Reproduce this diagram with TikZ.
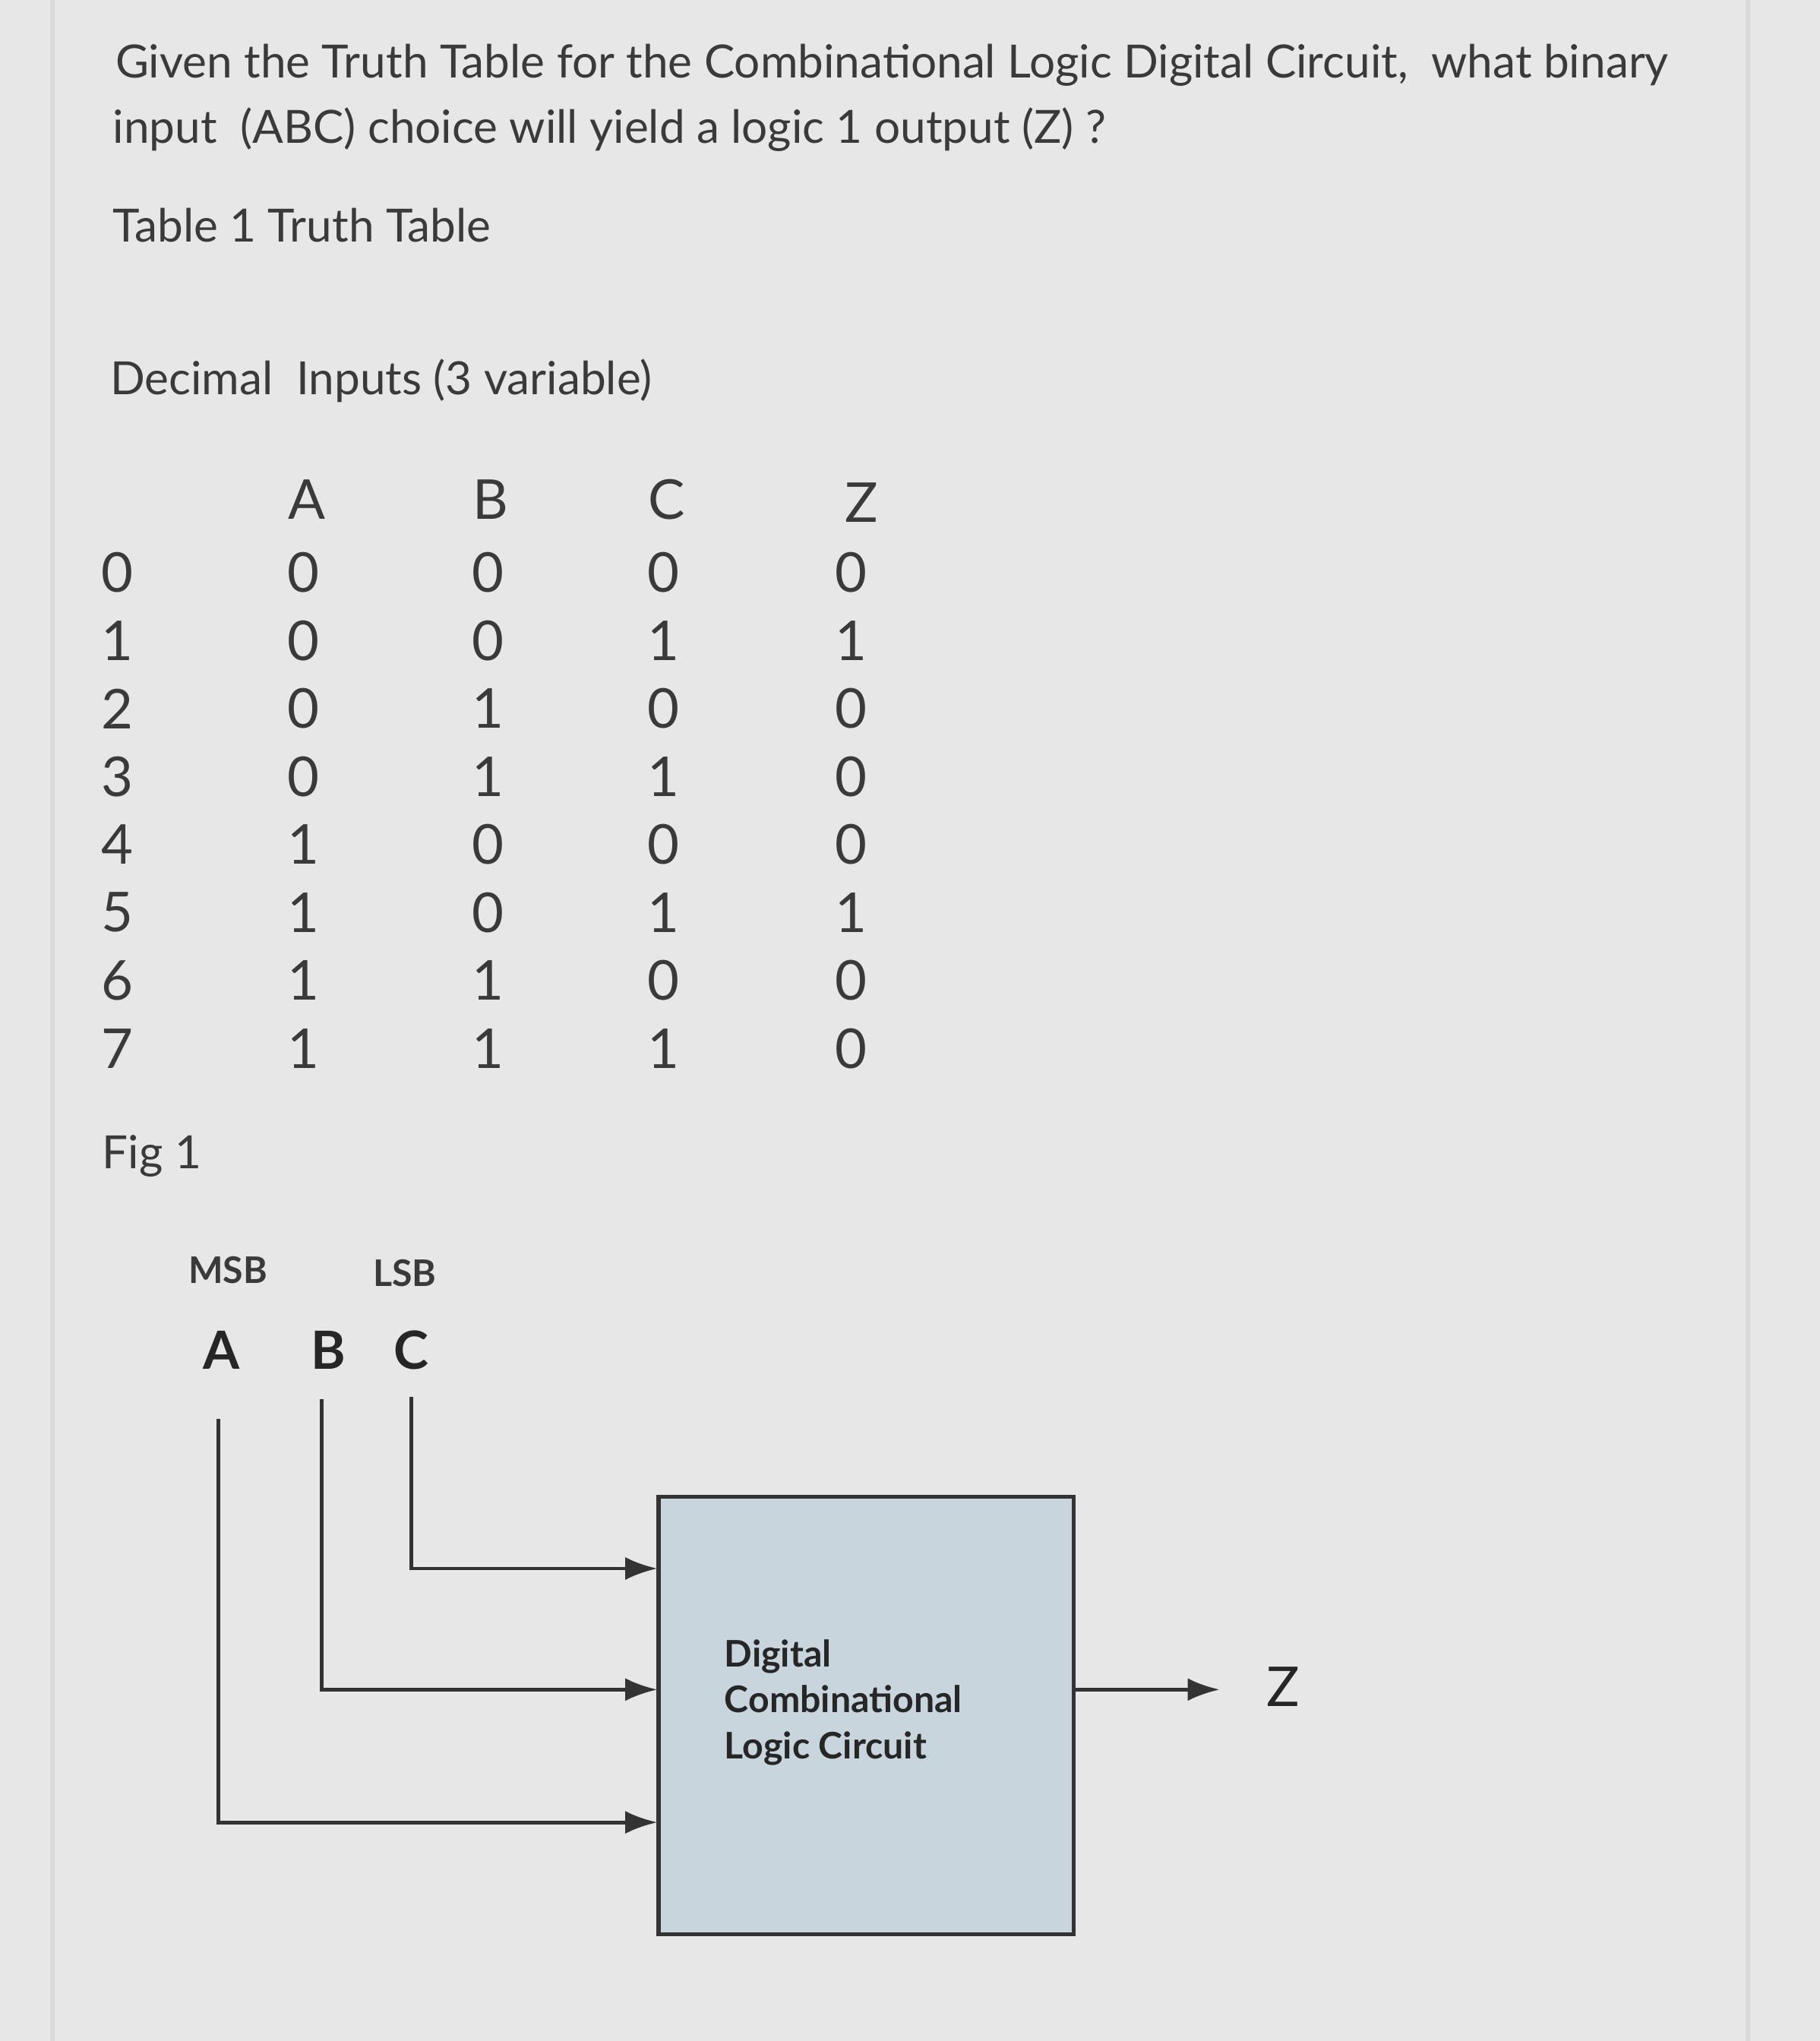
\documentclass[tikz,border=0pt]{standalone}
\usepackage{fontspec}
\setmainfont{Lato}
\usetikzlibrary{arrows.meta}
\definecolor{bg}{HTML}{E6E7E6}
\definecolor{boxfill}{HTML}{C8D5DC}
\definecolor{txt}{HTML}{3A3A3A}
\begin{document}
\begin{tikzpicture}[x=0.01cm,y=-0.01cm,
  txtn/.style={text=txt,font=\fontsize{10pt}{13pt}\selectfont,anchor=base west,inner sep=0},
  dig/.style={text=txt,font=\fontsize{12pt}{14pt}\selectfont,anchor=center,inner sep=0},
  wire/.style={draw=black!80,line width=0.8pt},
  arr/.style={wire,-{Latex[length=7pt,width=5pt]}}]
\useasboundingbox (0,0) rectangle (1398,1568);
\fill[bg] (0,0) rectangle (1398,1568);
\draw[black!15,line width=1pt] (40,0) -- (40,1568) (1343,0) -- (1343,1568);
\node[txtn] (t1) at (88,60) {Given the Truth Table for the Combinational Logic Digital Circuit,\ \ what binary};
\node[txtn] (t2) at (86,110) {input\ \ (ABC) choice will yield a logic 1 output (Z) ?};
\node[txtn] (t3) at (86,186) {Table 1 Truth Table};
\node[txtn] (t4) at (84,303) {Decimal\ \ Inputs (3 variable)};
\node[dig] (hA) at (236,384) {A};
\node[dig] (hB) at (377,384) {B};
\node[dig] (hC) at (512,384) {C};
\node[dig] (hZ) at (662,386) {Z};
\foreach \d/\a/\b/\c/\z [count=\i from 0] in {0/0/0/0/0,1/0/0/1/1,2/0/1/0/0,3/0/1/1/0,4/1/0/0/0,5/1/0/1/1,6/1/1/0/0,7/1/1/1/0}{
  \node[dig] (d\i) at (90,440+52.2*\i) {\d};
  \node[dig] (a\i) at (233,440+52.2*\i) {\a};
  \node[dig] (b\i) at (375,440+52.2*\i) {\b};
  \node[dig] (c\i) at (510,440+52.2*\i) {\c};
  \node[dig] (z\i) at (654,440+52.2*\i) {\z};
}
\node[txtn] (fig) at (78,898) {Fig 1};
\node[font=\bfseries\fontsize{8pt}{10pt}\selectfont,text=txt] (msb) at (175,976) {MSB};
\node[font=\bfseries\fontsize{8pt}{10pt}\selectfont,text=txt] (lsb) at (311,978) {LSB};
\node[font=\bfseries\fontsize{11.5pt}{13pt}\selectfont,text=black!85] (A) at (170,1037) {A};
\node[font=\bfseries\fontsize{11.5pt}{13pt}\selectfont,text=black!85] (B) at (252,1037) {B};
\node[font=\bfseries\fontsize{11.5pt}{13pt}\selectfont,text=black!85] (C) at (316,1037) {C};
\fill[boxfill] (506,1150) rectangle (825,1486);
\draw[black!80,line width=0.9pt] (506,1150) rectangle (825,1486);
\coordinate (bxE) at (825,1298);
\node[font=\bfseries\fontsize{8pt}{10pt}\selectfont,align=left,text=black!85,anchor=north west,inner sep=0] (lbl) at (556,1259) {Digital\\Combinational\\Logic Circuit};
\coordinate (Atop) at (168,1090);
\coordinate (Btop) at (247,1075);
\coordinate (Ctop) at (316,1073);
\coordinate (inA) at (505,1400);
\coordinate (inB) at (505,1298);
\coordinate (inC) at (505,1205);
\draw[arr] (Atop) |- (inA);
\draw[arr] (Btop) |- (inB);
\draw[arr] (Ctop) |- (inC);
\node[font=\fontsize{12pt}{14pt}\selectfont,text=black!85] (Z) at (986,1296) {Z};
\coordinate (zin) at (937,1298);
\draw[arr] (bxE) -- (zin);
\end{tikzpicture}
\end{document}
